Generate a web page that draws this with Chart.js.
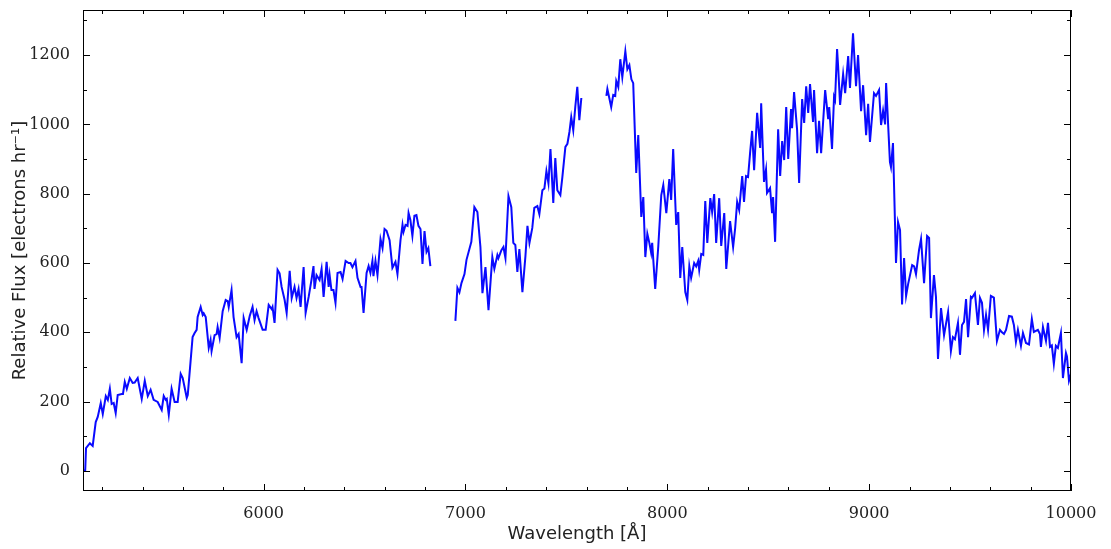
<!DOCTYPE html>
<html>
<head>
<meta charset="utf-8">
<script src="https://cdn.jsdelivr.net/npm/chart.js@4.4.0/dist/chart.umd.min.js"></script>
<style>
  html, body { margin: 0; padding: 0; background: #fff; }
  #chart { display: block; }
</style>
</head>
<body>
<canvas id="chart" width="1111" height="549"></canvas>
<script>
// spectrum, in three pieces (gaps between the detector chunks)
const waveA = [
  5104, 5116, 5120, 5139, 5153, 5168, 5178, 5193, 5203, 5218,
  5228, 5238, 5247, 5257, 5267, 5277, 5297, 5303, 5312, 5322,
  5337, 5351, 5361, 5376, 5396, 5411, 5426, 5440, 5455, 5475,
  5495, 5505, 5515, 5520, 5530, 5544, 5559, 5574, 5589, 5599,
  5619, 5624, 5648, 5658, 5668, 5673, 5688, 5698, 5703, 5713,
  5728, 5737, 5742, 5757, 5767, 5772, 5782, 5797, 5812, 5822,
  5827, 5841, 5851, 5866, 5876, 5891, 5901, 5916, 5931, 5945,
  5955, 5965, 5975, 5995, 6010, 6025, 6040, 6044, 6054, 6069,
  6079, 6089, 6104, 6114, 6129, 6139, 6153, 6163, 6173, 6183,
  6198, 6208, 6223, 6237, 6247, 6252, 6262, 6277, 6287, 6297,
  6312, 6322, 6327, 6336, 6346, 6356, 6366, 6381, 6391, 6406,
  6421, 6430, 6440, 6455, 6465, 6480, 6485, 6495, 6510, 6520,
  6529, 6539, 6544, 6554, 6564, 6579, 6589, 6599, 6609, 6624,
  6638, 6653, 6663, 6678, 6688, 6693, 6703, 6713, 6718, 6727,
  6737, 6747, 6757, 6767, 6777, 6787, 6797, 6807, 6816, 6826
];
const fluxA = [
  0, 2, 66, 80, 72, 141, 156, 196, 164, 216,
  205, 237, 193, 196, 167, 219, 222, 222, 257, 237,
  268, 254, 255, 268, 208, 260, 216, 234, 205, 199,
  176, 216, 205, 208, 162, 237, 199, 199, 280, 268,
  211, 219, 386, 398, 407, 444, 473, 450, 455, 444,
  355, 378, 346, 392, 395, 415, 384, 461, 493, 490,
  473, 522, 444, 386, 395, 311, 441, 407, 447, 473,
  435, 461, 441, 407, 407, 479, 467, 473, 427, 580,
  570, 531, 493, 456, 577, 499, 531, 499, 525, 473,
  588, 456, 502, 551, 591, 525, 565, 551, 583, 502,
  603, 531, 565, 522, 522, 485, 571, 574, 554, 606,
  600, 600, 588, 606, 557, 531, 531, 456, 571, 591,
  571, 606, 562, 606, 565, 669, 643, 698, 693, 666,
  586, 603, 568, 666, 710, 690, 710, 707, 744, 724,
  678, 736, 738, 707, 698, 597, 692, 632, 643, 591
];

const waveB = [
  6950, 6960, 6970, 6980, 6995, 7005, 7029, 7044, 7059, 7074,
  7084, 7099, 7114, 7133, 7143, 7158, 7163, 7178, 7188, 7198,
  7213, 7227, 7237, 7247, 7257, 7267, 7282, 7297, 7307, 7317,
  7331, 7341, 7356, 7366, 7381, 7391, 7401, 7411, 7421, 7435,
  7445, 7455, 7470, 7480, 7495, 7505, 7515, 7524, 7534, 7544,
  7554, 7564, 7574
];
const fluxB = [
  433, 528, 515, 542, 568, 609, 661, 761, 747, 646,
  513, 588, 464, 617, 583, 623, 614, 637, 646, 614,
  793, 761, 658, 652, 574, 640, 516, 620, 707, 658,
  701, 759, 764, 741, 810, 815, 865, 830, 929, 773,
  903, 810, 796, 848, 935, 944, 978, 1021, 983, 1050,
  1108, 1012, 1076
];

const waveC = [
  7698, 7703, 7722, 7732, 7742, 7747, 7757, 7767, 7777, 7792,
  7802, 7812, 7822, 7831, 7846, 7856, 7871, 7881, 7891, 7901,
  7911, 7920, 7925, 7940, 7955, 7970, 7980, 7995, 8010, 8019,
  8029, 8044, 8054, 8064, 8074, 8089, 8099, 8109, 8118, 8133,
  8143, 8153, 8158, 8168, 8178, 8188, 8198, 8213, 8222, 8232,
  8242, 8257, 8267, 8282, 8292, 8311, 8326, 8336, 8346, 8356,
  8371, 8380, 8390, 8400, 8410, 8420, 8430, 8445, 8460, 8465,
  8479, 8489, 8494, 8509, 8519, 8524, 8534, 8549, 8559, 8569,
  8579, 8589, 8599, 8613, 8618, 8628, 8643, 8653, 8668, 8678,
  8688, 8698, 8707, 8722, 8727, 8742, 8752, 8762, 8782, 8797,
  8802, 8816, 8826, 8831, 8841, 8846, 8856, 8871, 8881, 8896,
  8905, 8920, 8935, 8945, 8960, 8970, 8985, 8995, 9004, 9024,
  9034, 9049, 9059, 9069, 9079, 9084, 9103, 9108, 9118, 9133,
  9143, 9153, 9163, 9173, 9183, 9193, 9213, 9223, 9232, 9247,
  9257, 9272, 9287, 9297, 9306, 9321, 9331, 9341, 9356, 9371,
  9391, 9405, 9415, 9425, 9440, 9450, 9460, 9470, 9480, 9490,
  9504, 9509, 9524, 9539, 9549, 9559, 9569, 9579, 9589, 9603,
  9618, 9633, 9648, 9658, 9668, 9678, 9693, 9707, 9717, 9727,
  9737, 9752, 9762, 9777, 9792, 9806, 9816, 9836, 9846, 9851,
  9861, 9876, 9886, 9896, 9905, 9915, 9925, 9935, 9950, 9960,
  9975, 9980, 9990, 10000
];
const fluxC = [
  1082, 1102, 1050, 1085, 1082, 1125, 1108, 1188, 1136, 1211,
  1159, 1171, 1130, 1119, 860, 969, 733, 790, 617, 684,
  658, 629, 658, 525, 646, 796, 825, 744, 842, 782,
  929, 710, 747, 557, 646, 516, 493, 591, 557, 600,
  590, 606, 580, 626, 623, 779, 658, 787, 747, 799,
  658, 787, 649, 744, 583, 721, 646, 700, 776, 753,
  851, 776, 851, 848, 917, 981, 868, 1033, 932, 1061,
  834, 870, 802, 816, 744, 790, 661, 986, 851, 952,
  897, 1050, 900, 1044, 989, 1093, 984, 831, 1073, 1004,
  1110, 1033, 1116, 1007, 1099, 917, 1010, 917, 1099, 1015,
  1050, 929, 1079, 1070, 1217, 1170, 1056, 1145, 1090, 1197,
  1105, 1263, 1110, 1200, 1038, 1113, 969, 1059, 949, 1090,
  1082, 1099, 998, 1040, 1000, 1119, 891, 877, 946, 600,
  718, 695, 480, 614, 505, 539, 594, 590, 568, 637,
  669, 542, 678, 672, 441, 565, 502, 323, 470, 392,
  459, 346, 386, 380, 427, 335, 421, 430, 496, 386,
  502, 499, 513, 421, 499, 485, 407, 450, 407, 505,
  500, 375, 407, 400, 395, 407, 447, 445, 421, 372,
  407, 361, 398, 369, 365, 438, 401, 407, 395, 358,
  415, 375, 427, 358, 362, 309, 361, 355, 398, 268,
  340, 330, 260, 280
];

const xTicks = [6000, 7000, 8000, 9000, 10000];
const yTicks = [0, 200, 400, 600, 800, 1000, 1200];

// join the pieces, with a null between them so the line breaks
function buildPoints() {
  const pts = [];
  const pieces = [[waveA, fluxA], [waveB, fluxB], [waveC, fluxC]];
  pieces.forEach(([w, f], k) => {
    if (k > 0) pts.push({ x: (pts[pts.length - 1].x + w[0]) / 2, y: null });
    w.forEach((v, i) => pts.push({ x: v, y: f[i] }));
  });
  return pts;
}

// matplotlib-style frame with inward ticks on all four sides
const insideTicks = {
  id: "insideTicks",
  afterDatasetsDraw(chart) {
    const { ctx, chartArea: a, scales: { x, y } } = chart;
    ctx.save();
    ctx.strokeStyle = "#000";
    ctx.lineWidth = 1;
    ctx.beginPath();

    const xMark = (v, len) => {
      const px = Math.round(x.getPixelForValue(v)) + 0.5;
      ctx.moveTo(px, a.bottom); ctx.lineTo(px, a.bottom - len);
      ctx.moveTo(px, a.top); ctx.lineTo(px, a.top + len);
    };
    const yMark = (v, len) => {
      const py = Math.round(y.getPixelForValue(v)) + 0.5;
      ctx.moveTo(a.left, py); ctx.lineTo(a.left + len, py);
      ctx.moveTo(a.right, py); ctx.lineTo(a.right - len, py);
    };

    for (let v = Math.ceil(x.min / 200) * 200; v <= x.max; v += 200) {
      xMark(v, xTicks.includes(v) ? 7 : 4);
    }
    for (let v = Math.ceil(y.min / 100) * 100; v <= y.max; v += 100) {
      yMark(v, yTicks.includes(v) ? 7 : 4);
    }
    ctx.stroke();
    ctx.strokeRect(a.left + 0.5, a.top + 0.5, a.right - a.left - 1, a.bottom - a.top - 1);
    ctx.restore();
  }
};

const tickFont = { family: "DejaVu Serif", size: 16 };
const titleFont = { family: "DejaVu Sans", size: 18 };

new Chart(document.getElementById("chart"), {
  type: "line",
  data: {
    datasets: [{
      data: buildPoints(),
      borderColor: "#0a0aff",
      borderWidth: 2,
      pointRadius: 0,
      tension: 0,
      spanGaps: false
    }]
  },
  options: {
    responsive: false,
    animation: false,
    devicePixelRatio: 1,
    layout: { padding: { left: 0, right: 40, top: 10, bottom: 0 } },
    plugins: { legend: { display: false }, tooltip: { enabled: false } },
    scales: {
      x: {
        type: "linear",
        min: 5105,
        max: 10000,
        grid: { display: false },
        border: { display: false },
        afterBuildTicks: s => { s.ticks = xTicks.map(v => ({ value: v })); },
        afterFit: s => { s.height = 58; s.paddingLeft = 0; s.paddingRight = 0; },
        ticks: { font: tickFont, color: "#222", padding: 5, maxRotation: 0, callback: v => String(v) },
        title: { display: true, text: "Wavelength [Å]", font: titleFont, color: "#222", padding: { top: 0, bottom: 4 } }
      },
      y: {
        type: "linear",
        min: -58,
        max: 1330,
        grid: { display: false },
        border: { display: false },
        afterBuildTicks: s => { s.ticks = yTicks.map(v => ({ value: v })); },
        afterFit: s => { s.width = 83; s.paddingTop = 0; s.paddingBottom = 0; },
        ticks: { font: tickFont, color: "#222", padding: 5, callback: v => String(v) },
        title: { display: true, text: "Relative Flux [electrons hr⁻¹]", font: titleFont, color: "#222", padding: { top: 10, bottom: 0 } }
      }
    }
  },
  plugins: [insideTicks]
});
</script>
</body>
</html>
